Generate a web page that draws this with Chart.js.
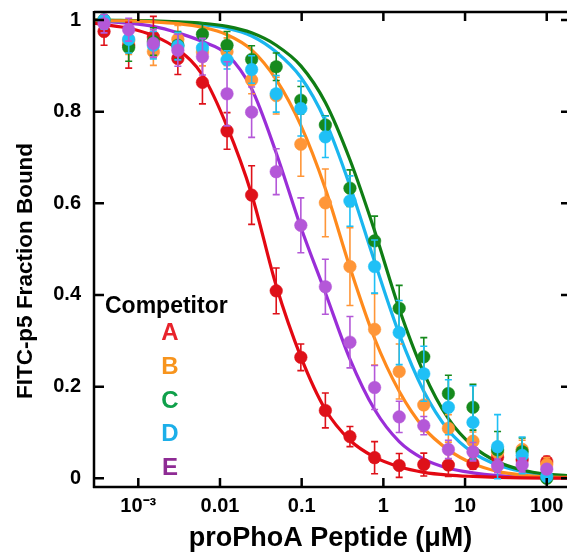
<!DOCTYPE html>
<html>
<head>
  <title>FITC-p5 Fraction Bound vs proPhoA Peptide</title>
  <style>
    body { margin: 0; background: #fff; }
    #wrap { width: 567px; height: 558px; }
  </style>
</head>
<body>
  <div id="wrap"><canvas id="chart" width="567" height="558"></canvas></div>

  <script src="https://cdn.jsdelivr.net/npm/chart.js"></script>
  <script>
    // peptide concentration (uM), 2-fold dilution series
    const conc = [0.000381, 0.000763, 0.00153, 0.00305, 0.0061, 0.0122, 0.0244, 0.0488, 0.0977,
                  0.195, 0.39, 0.781, 1.5625, 3.125, 6.25, 12.5, 25, 50, 100];

    // measured fraction bound (means) and error bars
    const boundA = [0.975, 0.945, 0.963, 0.916, 0.864, 0.758, 0.618, 0.409, 0.264, 0.148, 0.091, 0.045, 0.028, 0.030, 0.029, 0.032, 0.046, 0.040, 0.036];
    const errA   = [0.03, 0.05, 0.045, 0.035, 0.047, 0.04, 0.064, 0.05, 0.029, 0.038, 0.022, 0.035, 0.026, 0.025, 0.025, 0.012, 0.015, 0.015, 0.012];
    const boundB = [1.0, 0.955, 0.931, 0.958, 0.93, 0.931, 0.869, 0.835, 0.729, 0.601, 0.462, 0.325, 0.233, 0.160, 0.109, 0.081, 0.056, 0.063, 0.03];
    const errB   = [0.02, 0.03, 0.03, 0.03, 0.03, 0.03, 0.03, 0.04, 0.07, 0.074, 0.085, 0.078, 0.06, 0.058, 0.03, 0.02, 0.02, 0.02, 0.015];
    const boundC = [1.0, 0.94, 0.953, 0.945, 0.969, 0.945, 0.914, 0.898, 0.825, 0.771, 0.633, 0.518, 0.371, 0.265, 0.185, 0.155, 0.062, 0.058, 0.0];
    const errC   = [0.02, 0.03, 0.03, 0.03, 0.025, 0.03, 0.03, 0.03, 0.03, 0.02, 0.04, 0.054, 0.05, 0.042, 0.04, 0.05, 0.04, 0.03, 0.01];
    const boundD = [1.0, 0.958, 0.945, 0.943, 0.939, 0.913, 0.892, 0.839, 0.807, 0.745, 0.605, 0.462, 0.318, 0.228, 0.155, 0.122, 0.069, 0.050, 0.004];
    const errD   = [0.02, 0.03, 0.03, 0.03, 0.02, 0.02, 0.03, 0.04, 0.06, 0.045, 0.055, 0.058, 0.07, 0.06, 0.06, 0.08, 0.07, 0.04, 0.01];
    const boundE = [0.992, 0.979, 0.949, 0.934, 0.920, 0.839, 0.799, 0.669, 0.552, 0.418, 0.297, 0.198, 0.134, 0.115, 0.063, 0.058, 0.027, 0.029, 0.020];
    const errE   = [0.02, 0.025, 0.03, 0.035, 0.04, 0.07, 0.055, 0.05, 0.06, 0.06, 0.056, 0.048, 0.034, 0.02, 0.02, 0.02, 0.015, 0.015, 0.01];

    // fitted curves
    const fitConc = [0.000287, 0.000381, 0.000763, 0.00153, 0.00305, 0.0061, 0.0122, 0.0244, 0.0488, 0.0977,
                     0.195, 0.39, 0.781, 1.5625, 3.125, 6.25, 12.5, 25, 50, 100, 177];
    const fitA = [0.993, 0.99, 0.982, 0.966, 0.936, 0.88, 0.768, 0.62, 0.42, 0.265, 0.15, 0.083, 0.046, 0.025, 0.013, 0.007, 0.004, 0.002, 0.001, 0.0005, 0.0003];
    const fitB = [1.0, 0.999, 0.998, 0.996, 0.992, 0.984, 0.968, 0.935, 0.87, 0.77, 0.632, 0.46, 0.305, 0.19, 0.11, 0.062, 0.032, 0.015, 0.007, 0.003, 0.002];
    const fitC = [1.0, 1.0, 0.999, 0.998, 0.996, 0.993, 0.986, 0.972, 0.945, 0.9, 0.82, 0.695, 0.54, 0.37, 0.23, 0.13, 0.07, 0.036, 0.018, 0.009, 0.006];
    const fitD = [1.0, 0.999, 0.998, 0.997, 0.995, 0.99, 0.982, 0.965, 0.93, 0.875, 0.78, 0.638, 0.473, 0.315, 0.19, 0.105, 0.056, 0.029, 0.015, 0.007, 0.004];
    const fitE = [0.998, 0.997, 0.993, 0.986, 0.972, 0.953, 0.925, 0.85, 0.71, 0.548, 0.405, 0.26, 0.15, 0.08, 0.042, 0.022, 0.012, 0.006, 0.003, 0.0015, 0.001];

    const xTicks = [0.001, 0.01, 0.1, 1, 10, 100];
    const xTickLabels = ['10\u207B\u00B3', '0.01', '0.1', '1', '10', '100'];
    const yTicks = [0, 0.2, 0.4, 0.6, 0.8, 1];
    const yTickLabels = ['0', '0.2', '0.4', '0.6', '0.8', '1'];

    const yTitle = 'FITC-p5 Fraction Bound';
    const legendTitle = 'Competitor';
    const names = ['A', 'B', 'C', 'D', 'E'];
    const legendColors = ['#e8232b', '#f7941d', '#0fa04a', '#1cafe9', '#8e2b94'];
    const pointColors = ['#de1119', '#ff9638', '#168a1d', '#1fc0f6', '#b458d8'];
    const lineColors = ['#e30812', '#ff8a1c', '#0f7d14', '#1ab6ef', '#9a2ed8'];

    const FONT = '"Liberation Sans", Arial, sans-serif';

    const means = [boundA, boundB, boundC, boundD, boundE];
    const errs = [errA, errB, errC, errD, errE];
    const fits = [fitA, fitB, fitC, fitD, fitE];

    const datasets = [];
    names.forEach((n, i) => {
      datasets.push({
        label: n + ' fit',
        data: fitConc.map((c, j) => ({ x: c, y: fits[i][j] })),
        showLine: true,
        borderColor: lineColors[i],
        borderWidth: 3.2,
        pointRadius: 0,
        cubicInterpolationMode: 'monotone',
        fill: false,
        order: 20 + i
      });
      datasets.push({
        label: n,
        data: conc.map((c, j) => ({ x: c, y: means[i][j] })),
        errors: errs[i],
        barColor: pointColors[i],
        showLine: false,
        pointRadius: 6.3,
        pointBackgroundColor: pointColors[i],
        pointBorderColor: pointColors[i],
        pointBorderWidth: 0.5,
        order: 5 - i
      });
    });

    const errorBars = {
      id: 'errorBars',
      beforeDatasetDraw(chart, args) {
        const ds = chart.data.datasets[args.index];
        if (!ds.errors) return;
        const xs = chart.scales.x, ys = chart.scales.y, a = chart.chartArea;
        const ctx = chart.ctx;
        ctx.save();
        ctx.beginPath();
        ctx.rect(a.left, a.top, a.right - a.left, a.bottom - a.top);
        ctx.clip();
        ctx.strokeStyle = ds.barColor;
        ctx.lineWidth = 1.6;
        ds.data.forEach((p, i) => {
          const px = xs.getPixelForValue(p.x);
          const top = ys.getPixelForValue(p.y + ds.errors[i]);
          const bot = ys.getPixelForValue(p.y - ds.errors[i]);
          ctx.beginPath();
          ctx.moveTo(px, top); ctx.lineTo(px, bot);
          ctx.moveTo(px - 3.5, top); ctx.lineTo(px + 3.5, top);
          ctx.moveTo(px - 3.5, bot); ctx.lineTo(px + 3.5, bot);
          ctx.stroke();
        });
        ctx.restore();
      }
    };

    // box with inward ticks on all sides
    const frame = {
      id: 'frame',
      afterDatasetsDraw(chart) {
        const { ctx, chartArea: a } = chart;
        const xs = chart.scales.x, ys = chart.scales.y;
        ctx.save();
        ctx.strokeStyle = '#000';
        ctx.lineWidth = 2.5;
        ctx.beginPath();
        ctx.moveTo(a.left, a.top); ctx.lineTo(a.right + 2, a.top);
        ctx.moveTo(a.left, a.top - 1); ctx.lineTo(a.left, a.bottom + 1);
        ctx.moveTo(a.left - 1, a.bottom); ctx.lineTo(a.right + 2, a.bottom);
        xTicks.forEach(v => {
          const px = xs.getPixelForValue(v);
          ctx.moveTo(px, a.bottom); ctx.lineTo(px, a.bottom - 9);
          ctx.moveTo(px, a.top); ctx.lineTo(px, a.top + 9);
        });
        yTicks.forEach(v => {
          const py = ys.getPixelForValue(v);
          ctx.moveTo(a.left, py); ctx.lineTo(a.left + 10, py);
          ctx.moveTo(a.right, py); ctx.lineTo(a.right - 6, py);
        });
        ctx.stroke();
        ctx.restore();
      }
    };

    // y title sits a little below the middle of the axis in the original, plus the inline legend
    const annotations = {
      id: 'annotations',
      afterDraw(chart) {
        const ctx = chart.ctx;
        ctx.save();
        ctx.textBaseline = 'middle';
        ctx.fillStyle = '#000';

        ctx.save();
        ctx.translate(26, 271);
        ctx.rotate(-Math.PI / 2);
        ctx.textAlign = 'center';
        ctx.font = 'bold 22.5px ' + FONT;
        ctx.fillText(yTitle, 0, 0);
        ctx.restore();

        ctx.font = 'bold 23px ' + FONT;
        ctx.textAlign = 'left';
        ctx.fillText(legendTitle, 105, 307);
        ctx.textAlign = 'center';
        ctx.font = 'bold 24px ' + FONT;
        const rows = [333, 367, 401, 434, 468];
        names.forEach((n, i) => {
          ctx.fillStyle = legendColors[i];
          ctx.fillText(n, 170, rows[i]);
        });
        ctx.restore();
      }
    };

    new Chart(document.getElementById('chart'), {
      type: 'scatter',
      data: { datasets },
      options: {
        responsive: false,
        animation: false,
        layout: { autoPadding: false, padding: { top: 12, right: 0, left: 0, bottom: 0 } },
        plugins: { legend: { display: false }, tooltip: { enabled: false } },
        scales: {
          x: {
            type: 'logarithmic',
            min: 0.000287,
            max: 177,
            afterFit: s => { s.height = 71; s.paddingLeft = 0; s.paddingRight = 0; },
            afterBuildTicks: s => { s.ticks = xTicks.map(v => ({ value: v })); },
            grid: { display: false, drawTicks: false },
            border: { display: false },
            ticks: {
              autoSkip: false,
              maxRotation: 0,
              padding: 7,
              color: '#000',
              font: { family: FONT, size: 20, weight: 'bold' },
              callback: (v, i) => xTickLabels[i]
            },
            title: {
              display: true,
              text: 'proPhoA Peptide (\u03BCM)',
              color: '#000',
              font: { family: FONT, size: 27, weight: 'bold' },
              padding: { top: 0, bottom: 3 }
            }
          },
          y: {
            min: -0.019,
            max: 1.0175,
            afterFit: s => { s.width = 94; s.paddingTop = 0; s.paddingBottom = 0; },
            afterBuildTicks: s => { s.ticks = yTicks.map(v => ({ value: v })); },
            grid: { display: false, drawTicks: false },
            border: { display: false },
            ticks: {
              padding: 13,
              color: '#000',
              font: { family: FONT, size: 20, weight: 'bold' },
              callback: (v, i) => yTickLabels[i]
            }
          }
        }
      },
      plugins: [errorBars, frame, annotations]
    });
  </script>
</body>
</html>
